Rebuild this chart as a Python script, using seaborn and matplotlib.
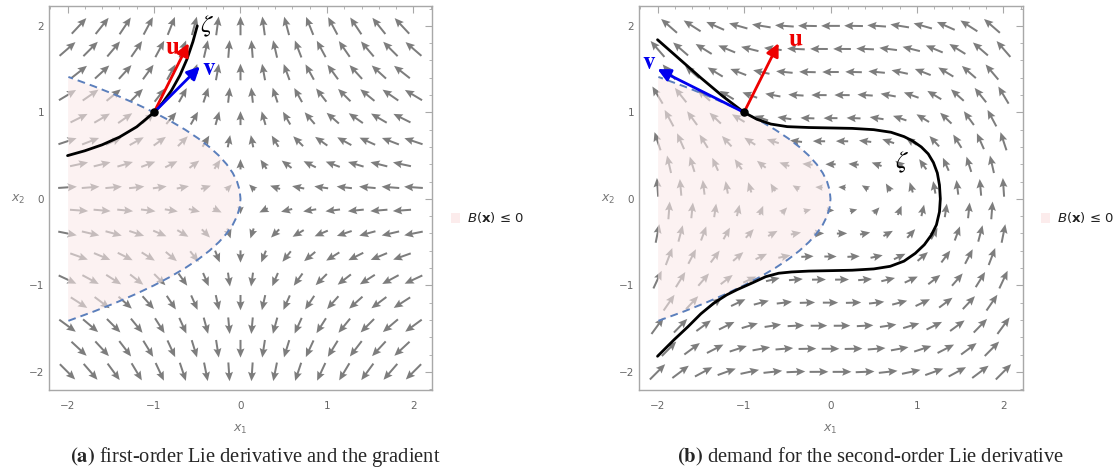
import matplotlib

matplotlib.use("Agg")

import matplotlib.pyplot as plt
import numpy as np
import pandas as pd
import seaborn as sns
from matplotlib.patches import Rectangle
from matplotlib.ticker import MultipleLocator


# dashed boundary of B(x) <= 0
BOUNDARY_X2 = [-1.41, -1.3, -1.2, -1.1, -1.0, -0.9, -0.8, -0.7, -0.6, -0.5, -0.4, -0.3, -0.2, -0.1, 0.0,
               0.1, 0.2, 0.3, 0.4, 0.5, 0.6, 0.7, 0.8, 0.9, 1.0, 1.1, 1.2, 1.3, 1.41]
BOUNDARY_X1 = [-1.99, -1.69, -1.44, -1.21, -1.0, -0.81, -0.64, -0.49, -0.36, -0.25, -0.16, -0.09, -0.04, -0.01, 0.0,
               -0.01, -0.04, -0.09, -0.16, -0.25, -0.36, -0.49, -0.64, -0.81, -1.0, -1.21, -1.44, -1.69, -1.99]

# trajectory zeta, panel (a)
ZETA_A_X1 = [-2.0, -1.8, -1.6, -1.4, -1.2, -1.0, -0.9, -0.8, -0.7, -0.62, -0.55, -0.5]
ZETA_A_X2 = [0.5, 0.556, 0.625, 0.714, 0.833, 1.0, 1.111, 1.25, 1.429, 1.613, 1.818, 2.0]

# trajectory zeta, panel (b)
ZETA_B_X1 = [-2.0, -1.75, -1.5, -1.25, -1.0, -0.85, -0.69, -0.5, -0.25, 0.0, 0.25, 0.5, 0.7, 0.85, 0.95,
             1.05, 1.13, 1.19, 1.235, 1.26, 1.27, 1.26, 1.225, 1.165, 1.085, 0.98, 0.85, 0.69, 0.5, 0.25,
             0.0, -0.25, -0.45, -0.6, -0.75, -0.9, -1.08, -1.2, -1.35, -1.5, -1.65, -1.81, -2.0]
ZETA_B_X2 = [1.84, 1.62, 1.4, 1.19, 1.0, 0.92, 0.865, 0.835, 0.825, 0.82, 0.815, 0.8, 0.77, 0.72, 0.67,
             0.6, 0.52, 0.42, 0.3, 0.16, 0.0, -0.15, -0.3, -0.42, -0.53, -0.63, -0.72, -0.78, -0.81, -0.825,
             -0.83, -0.835, -0.845, -0.86, -0.9, -0.97, -1.05, -1.11, -1.206, -1.33, -1.48, -1.63, -1.82]

# the marked state and the two vectors drawn from it (tips)
STATE = (-1.0, 1.0)
U_TIP = {"a": (-0.6, 1.8), "b": (-0.6, 1.8)}
V_TIP = {"a": (-0.47, 1.53), "b": (-2.0, 1.5)}

CAPTIONS = {
    "a": r"$\mathbf{(a)}$ first-order Lie derivative and the gradient",
    "b": r"$\mathbf{(b)}$ demand for the second-order Lie derivative",
}


def field_a(x1, x2):
    # system of panel (a): saddle, arrows
    return -x1, x2


def field_b(x1, x2):
    # system of panel (b)
    return -x2, 0.5 * x1 ** 2


def staggered_grid():
    step = 4 / 15
    xs, ys = [], []
    for i, y in enumerate(2 - step * np.arange(16)):
        if i % 2:
            row = np.linspace(-2, 2, 16)
        else:
            row = np.linspace(-2 + step / 2, 2 - step / 2, 15)
        xs.extend(row)
        ys.extend([y] * len(row))
    return np.array(xs), np.array(ys)


def draw_panel(ax, field, zeta_x1, zeta_x2, key, labels):
    gx, gy = staggered_grid()
    fu, fv = field(gx, gy)
    mag = np.hypot(fu, fv)
    length = 0.04 + 0.125 * np.sqrt(mag)
    ax.quiver(gx, gy, fu / mag * length, fv / mag * length, angles="xy", scale_units="xy", scale=1,
              pivot="middle", units="dots", width=2.0, headwidth=4.0, headlength=4.6, headaxislength=4.0,
              color="#7d7d7d", zorder=2)

    ax.fill_betweenx(BOUNDARY_X2, -2, BOUNDARY_X1, color="#faeaea", alpha=0.58, lw=0, zorder=3)
    bound = pd.DataFrame({"x1": BOUNDARY_X1, "x2": BOUNDARY_X2})
    sns.lineplot(data=bound, x="x1", y="x2", sort=False, estimator=None, color="#5b7fbc", lw=1.4,
                 dashes=False, linestyle=(0, (4, 2.6)), ax=ax, zorder=4)

    zeta = pd.DataFrame({"x1": zeta_x1, "x2": zeta_x2})
    sns.lineplot(data=zeta, x="x1", y="x2", sort=False, estimator=None, color="black", lw=2.0,
                 ax=ax, zorder=5)

    for tip, color in ((U_TIP[key], "#ee0000"), (V_TIP[key], "#0000ee")):
        ax.annotate("", xy=tip, xytext=STATE, zorder=6,
                    arrowprops=dict(arrowstyle="-|>", color=color, lw=2.0, mutation_scale=19,
                                    shrinkA=0, shrinkB=0))
    ax.scatter([STATE[0]], [STATE[1]], s=26, color="black", zorder=7)

    for text, (x, y), color in labels:
        ax.text(x, y, text, color=color, fontsize=18, ha="center", va="center",
                math_fontfamily="stix", zorder=8)

    ax.set_xlim(-2.22, 2.22)
    ax.set_ylim(-2.21, 2.23)
    ax.xaxis.set_major_locator(MultipleLocator(1))
    ax.yaxis.set_major_locator(MultipleLocator(1))
    ax.xaxis.set_minor_locator(MultipleLocator(0.2))
    ax.yaxis.set_minor_locator(MultipleLocator(0.2))
    ax.tick_params(which="both", direction="in", top=True, right=True, color="#a8a8a8",
                   labelcolor="#666666", labelsize=7.5)
    ax.tick_params(axis="x", which="major", pad=8)
    ax.tick_params(axis="y", which="major", pad=3)
    ax.tick_params(which="major", length=5, width=0.8)
    ax.tick_params(which="minor", length=2.5, width=0.6)
    for spine in ax.spines.values():
        spine.set_color("#a8a8a8")
        spine.set_linewidth(1.0)
    ax.set_xlabel("")
    ax.set_ylabel("")
    ax.text(0.5, -0.104, r"$x_1$", transform=ax.transAxes, ha="center", va="center",
            color="#777777", fontsize=9)
    ax.text(-0.079, 0.495, r"$x_2$", transform=ax.transAxes, ha="center", va="center",
            color="#777777", fontsize=9)

    # legend square and text to the right of the frame
    ax.add_patch(Rectangle((1.047, 0.436), 0.024, 0.024, transform=ax.transAxes, clip_on=False,
                           facecolor="#fcecec", edgecolor="none"))
    ax.text(1.0898, 0.448, r"$B(\mathbf{x})$ ≤ 0", transform=ax.transAxes, ha="left", va="center",
            fontsize=9.5, color="#222222")


sns.set_theme(style="white")
plt.rcParams["font.family"] = ["DejaVu Sans"]
plt.rcParams["mathtext.fontset"] = "dejavusans"

fig = plt.figure(figsize=(11.18, 4.70), dpi=100)
ax_a = fig.add_axes([48.5 / 1118, 80 / 470, 384 / 1118, 384 / 470])
ax_b = fig.add_axes([638.5 / 1118, 80 / 470, 384 / 1118, 384 / 470])

draw_panel(ax_a, field_a, ZETA_A_X1, ZETA_A_X2, "a",
           [(r"$\mathbf{u}$", (-0.78, 1.76), "#ee0000"),
            (r"$\mathbf{v}$", (-0.36, 1.51), "#0000ee"),
            (r"$\zeta$", (-0.39, 2.0), "black")])
draw_panel(ax_b, field_b, ZETA_B_X1, ZETA_B_X2, "b",
           [(r"$\mathbf{u}$", (-0.4, 1.85), "#ee0000"),
            (r"$\mathbf{v}$", (-2.1, 1.58), "#0000ee"),
            (r"$\zeta$", (0.83, 0.42), "black")])

fig.text(255 / 1118, 1 - 457 / 470, CAPTIONS["a"], ha="center", va="center", fontsize=14.8,
         family="Liberation Serif", math_fontfamily="stix")
fig.text(871 / 1118, 1 - 457 / 470, CAPTIONS["b"], ha="center", va="center", fontsize=14.8,
         family="Liberation Serif", math_fontfamily="stix")

fig.savefig("out.png", dpi=100)
